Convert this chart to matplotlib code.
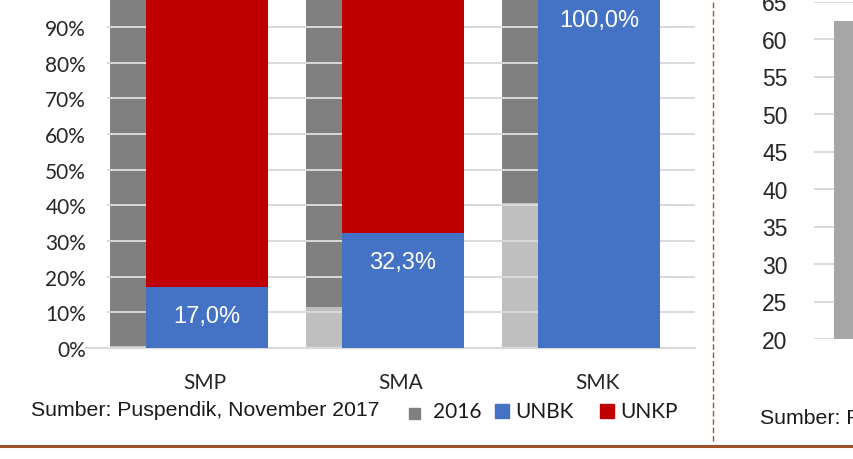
import matplotlib
matplotlib.use("Agg")
import matplotlib.pyplot as plt
from matplotlib.patches import Rectangle
from matplotlib.lines import Line2D

# data
jenjang = ["SMP", "SMA", "SMK"]
unbk_2016 = [0.7, 11.4, 40.7]
unkp_2016 = [99.3, 88.6, 59.3]
unbk_2017 = [17.0, 32.3, 100.0]
unkp_2017 = [83.0, 67.7, 0.0]
label_2017 = ["17,0%", "32,3%", "100,0%"]

kanan_ticks = [20, 25, 30, 35, 40, 45, 50, 55, 60, 65]
kanan_nilai = [62.4]

c_blue = "#4472c4"
c_red = "#c00000"
c_dark = "#808080"
c_light = "#bfbfbf"
c_grid = "#d9d9d9"
c_brown = "#a0522d"
calibri = "Lato"
arial = "Liberation Sans"

W, H = 854, 460
fig = plt.figure(figsize=(W / 100, H / 100), dpi=100)
fig.patch.set_facecolor("white")

def fx(px):
    return px / W

def fy(py):
    return 1 - py / H

# ---- left chart
ax = fig.add_axes([fx(107), fy(349), fx(695 - 107), (467.7 - 111) / H])
x = range(len(jenjang))
x16 = [i - 0.175 for i in x]
x17 = [i + 0.01 for i in x]
bw = 0.62

ax.bar(x16, unbk_2016, bw, color=c_light, zorder=1)
ax.bar(x16, unkp_2016, bw, bottom=unbk_2016, color=c_dark, zorder=1)
for t in range(10, 101, 10):
    ax.axhline(t, color=c_grid, lw=1.4, zorder=1.5)
ax.bar(x17, unbk_2017, bw, color=c_blue, zorder=2)
ax.bar(x17, unkp_2017, bw, bottom=unbk_2017, color=c_red, zorder=2)

for xi, v, lab in zip(x17, unbk_2017, label_2017):
    ax.annotate(lab, (xi, v), xytext=(0, -29 * 0.72), textcoords="offset points",
                ha="center", va="center", color="white", fontsize=17,
                fontfamily=arial, zorder=3)

ax.set_xlim(-0.5, 2.5)
ax.set_ylim(0, 100)
ax.set_yticks(range(0, 91, 10))
ax.set_yticklabels([f"{t}%" for t in range(0, 91, 10)], fontfamily=calibri,
                   fontsize=15, color="#262626")
ax.set_xticks(list(x))
ax.set_xticklabels(jenjang, fontfamily=calibri, fontsize=15, color="#262626")
ax.tick_params(axis="y", length=0, pad=15)
ax.tick_params(axis="x", length=0, pad=17)
for s in ax.spines.values():
    s.set_visible(False)
ax.plot([-0.036, 1.0], [0, 0], transform=ax.transAxes, color=c_grid, lw=1.6,
        clip_on=False, zorder=1.6)

# source + legend
fig.text(fx(31), fy(411), "Sumber: Puspendik, November 2017", fontfamily=arial,
         fontsize=15.3, va="center", ha="left", color="#1a1a1a")
legend_items = [("2016", c_dark, 409, 409, 11, 433), ("UNBK", c_blue, 495, 405, 14, 515),
                ("UNKP", c_red, 600, 405, 14, 620)]
for name, col, mx, my, ms, tx in legend_items:
    fig.add_artist(Rectangle((fx(mx), fy(my + ms)), fx(ms), ms / H,
                             transform=fig.transFigure, color=col))
    fig.text(fx(tx), fy(412), name, fontfamily=calibri, fontsize=15,
             va="center", ha="left", color="#1a1a1a")

# ---- right chart (partial)
ax2 = fig.add_axes([fx(814), fy(340), fx(200), (340 - 2.5) / H])
ax2.bar([0], kanan_nilai, 0.6, bottom=0, color="#a6a6a6", zorder=2)
ax2.set_xlim(-0.4, 0.6)
ax2.set_ylim(20, 65)
ax2.set_yticks(kanan_ticks)
ax2.set_yticklabels([str(t) for t in kanan_ticks], fontfamily=arial, fontsize=16.5,
                    color="#262626")
ax2.grid(axis="y", color=c_grid, lw=1.4, zorder=0)
ax2.set_axisbelow(True)
ax2.tick_params(axis="y", length=0, pad=19)
ax2.set_xticks([])
for s in ax2.spines.values():
    s.set_visible(False)
fig.text(fx(760), fy(419), "Sumber: Puspendik", fontfamily=arial, fontsize=15.3,
         va="center", ha="left", color="#1a1a1a")

# separators
fig.add_artist(Line2D([fx(713), fx(713)], [fy(442), 1.0], transform=fig.transFigure,
                      color=c_brown, lw=1.0, dashes=(4, 2)))
fig.add_artist(Line2D([0, 1], [fy(446.7), fy(446.7)], transform=fig.transFigure,
                      color=c_brown, lw=2.2))

fig.savefig("out.png", dpi=100)
